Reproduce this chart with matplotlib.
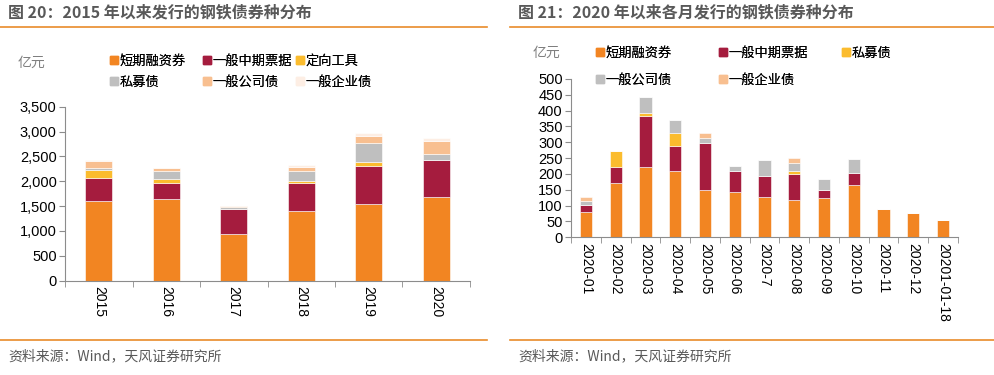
import numpy as np
import matplotlib
matplotlib.use("Agg")
import matplotlib.pyplot as plt
from matplotlib.ticker import FuncFormatter, MultipleLocator
from matplotlib.patches import Patch

plt.rcParams['font.family'] = ['Noto Sans CJK SC', 'DejaVu Sans']

W, H = 995, 375

# ---- data: left chart (yearly, 亿元) ----
years = ["2015", "2016", "2017", "2018", "2019", "2020"]
y_scp = [1603, 1636, 946, 1402, 1536, 1690]      # 短期融资券
y_mtn = [469, 336, 489, 570, 778, 745]           # 一般中期票据
y_ppn = [148, 73, 0, 33, 74, 0]                  # 定向工具
y_pri = [53, 155, 54, 195, 375, 107]             # 私募债
y_corp = [141, 60, 13, 87, 148, 275]             # 一般公司债
y_ent = [8, 13, 8, 33, 53, 47]                   # 一般企业债

# ---- data: right chart (monthly, 亿元) ----
months = ["2020-01", "2020-02", "2020-03", "2020-04", "2020-05", "2020-06",
          "2020-7", "2020-08", "2020-09", "2020-10", "2020-11", "2020-12",
          "20201-01-18"]
m_scp = [79, 171, 222, 209, 149, 144, 127, 119, 125, 164, 89, 77, 54]
m_mtn = [23, 50, 162, 79, 150, 65, 66, 80, 25, 39, 0, 0, 0]
m_pri = [0, 50, 9, 41, 0, 0, 0, 9, 0, 0, 0, 0, 0]
m_corp = [12, 0, 51, 41, 15, 17, 50, 25, 35, 45, 0, 0, 0]
m_ent = [14, 0, 0, 0, 15, 0, 0, 16, 0, 0, 0, 0, 0]

C_ORANGE = "#F28522"
C_RED = "#A51C3E"
C_YELLOW = "#FBBC2E"
C_GRAY = "#BFBFBF"
C_PEACH = "#F8BF90"
C_LIGHT = "#FDEEE4"
C_LINE = "#E98B2A"
C_TITLE = "#595959"


def px_axes(fig, x0, y0, x1, y1):
    # pixel box (top-left origin) -> figure axes
    return fig.add_axes([x0 / W, 1 - y1 / H, (x1 - x0) / W, (y1 - y0) / H])


def stack(ax, cats, series, colors, width):
    x = np.arange(len(cats))
    bottom = np.zeros(len(cats))
    for vals, c in zip(series, colors):
        v = np.array(vals, dtype=float)
        ax.bar(x, v, width, bottom=bottom, color=c, edgecolor="white",
               linewidth=0.4, zorder=2)
        bottom += v
    return x


def style_axes(ax, n, ymax, step, fmt):
    ax.set_xlim(-0.5, n - 0.5)
    ax.set_ylim(0, ymax)
    ax.yaxis.set_major_locator(MultipleLocator(step))
    ax.yaxis.set_major_formatter(FuncFormatter(fmt))
    for s in ["top", "right"]:
        ax.spines[s].set_visible(False)
    for s in ["left", "bottom"]:
        ax.spines[s].set_color("#8C8C8C")
        ax.spines[s].set_linewidth(0.8)
    ax.set_xticks(np.arange(n + 1) - 0.5, minor=True)
    ax.tick_params(axis="x", which="major", length=0, pad=4)
    ax.tick_params(axis="x", which="minor", length=4, color="#8C8C8C")
    ax.tick_params(axis="y", length=4, color="#8C8C8C", labelsize=10.5, pad=2)
    for t in ax.get_yticklabels():
        t.set_family(['Liberation Sans', 'DejaVu Sans'])


def legend_items(fig, labels, colors, slots):
    # one small legend per item, placed at fixed pixel slots (x, y centre)
    for lab, c, (px, py) in zip(labels, colors, slots):
        lg = fig.legend([Patch(color=c)], [lab], loc="center left",
                        bbox_to_anchor=(px / W, 1 - py / H), frameon=False,
                        fontsize=9.5, handlelength=0.6, handleheight=0.6,
                        handletextpad=0.15, borderpad=0, borderaxespad=0)
        fig.add_artist(lg)


fig = plt.figure(figsize=(W / 100, H / 100), dpi=100)

# header / footer decorations
for x0, x1, title in [(0, 487, "图 20：2015 年以来发行的钢铁债券种分布"),
                      (510, 995, "图 21：2020 年以来各月发行的钢铁债券种分布")]:
    fig.add_artist(plt.Line2D([x0 / W, x1 / W], [1 - 27 / H] * 2,
                              color=C_LINE, lw=1.2))
    fig.add_artist(plt.Line2D([x0 / W, x1 / W], [1 - 340 / H] * 2,
                              color=C_LINE, lw=1.2))
    fig.text((x0 + 8) / W, 1 - 12 / H, title, fontsize=11.5, fontweight="bold",
             color=C_TITLE, va="center", ha="left")
    fig.text((x0 + 8) / W, 1 - 356 / H, "资料来源：Wind，天风证券研究所",
             fontsize=10, color="#595959", va="center", ha="left")

# ---- left chart ----
ax1 = px_axes(fig, 65, 106.7, 470, 280.7)
c1 = [C_ORANGE, C_RED, C_YELLOW, C_GRAY, C_PEACH, C_LIGHT]
x = stack(ax1, years, [y_scp, y_mtn, y_ppn, y_pri, y_corp, y_ent], c1, 0.4)
style_axes(ax1, len(years), 3500, 500, lambda v, p: f"{int(v):,}")
ax1.set_xticks(x)
ax1.set_xticklabels(years, rotation=270, fontsize=10,
                    family=['Liberation Sans', 'DejaVu Sans'])
fig.text(18 / W, 1 - 63 / H, "亿元", fontsize=10, color="#7F7F7F", va="center")
l1 = ["短期融资券", "一般中期票据", "定向工具", "私募债", "一般公司债", "一般企业债"]
legend_items(fig, l1, c1, [(110, 61), (203, 61), (296, 61),
                           (110, 82), (203, 82), (296, 82)])

# ---- right chart ----
ax2 = px_axes(fig, 571, 78.9, 958, 237.3)
c2 = [C_ORANGE, C_RED, C_YELLOW, C_GRAY, C_PEACH]
x = stack(ax2, months, [m_scp, m_mtn, m_pri, m_corp, m_ent], c2, 0.41)
style_axes(ax2, len(months), 500, 50, lambda v, p: f"{int(v)}")
ax2.set_xticks(x)
ax2.set_xticklabels(months, rotation=270, fontsize=10,
                    family=['Liberation Sans', 'DejaVu Sans'])
fig.text(533 / W, 1 - 53 / H, "亿元", fontsize=10, color="#7F7F7F", va="center")
l2 = ["短期融资券", "一般中期票据", "私募债", "一般公司债", "一般企业债"]
legend_items(fig, l2, c2, [(596, 53), (719, 53), (842, 53),
                           (596, 80), (719, 80)])

fig.savefig("out.png", dpi=100)
